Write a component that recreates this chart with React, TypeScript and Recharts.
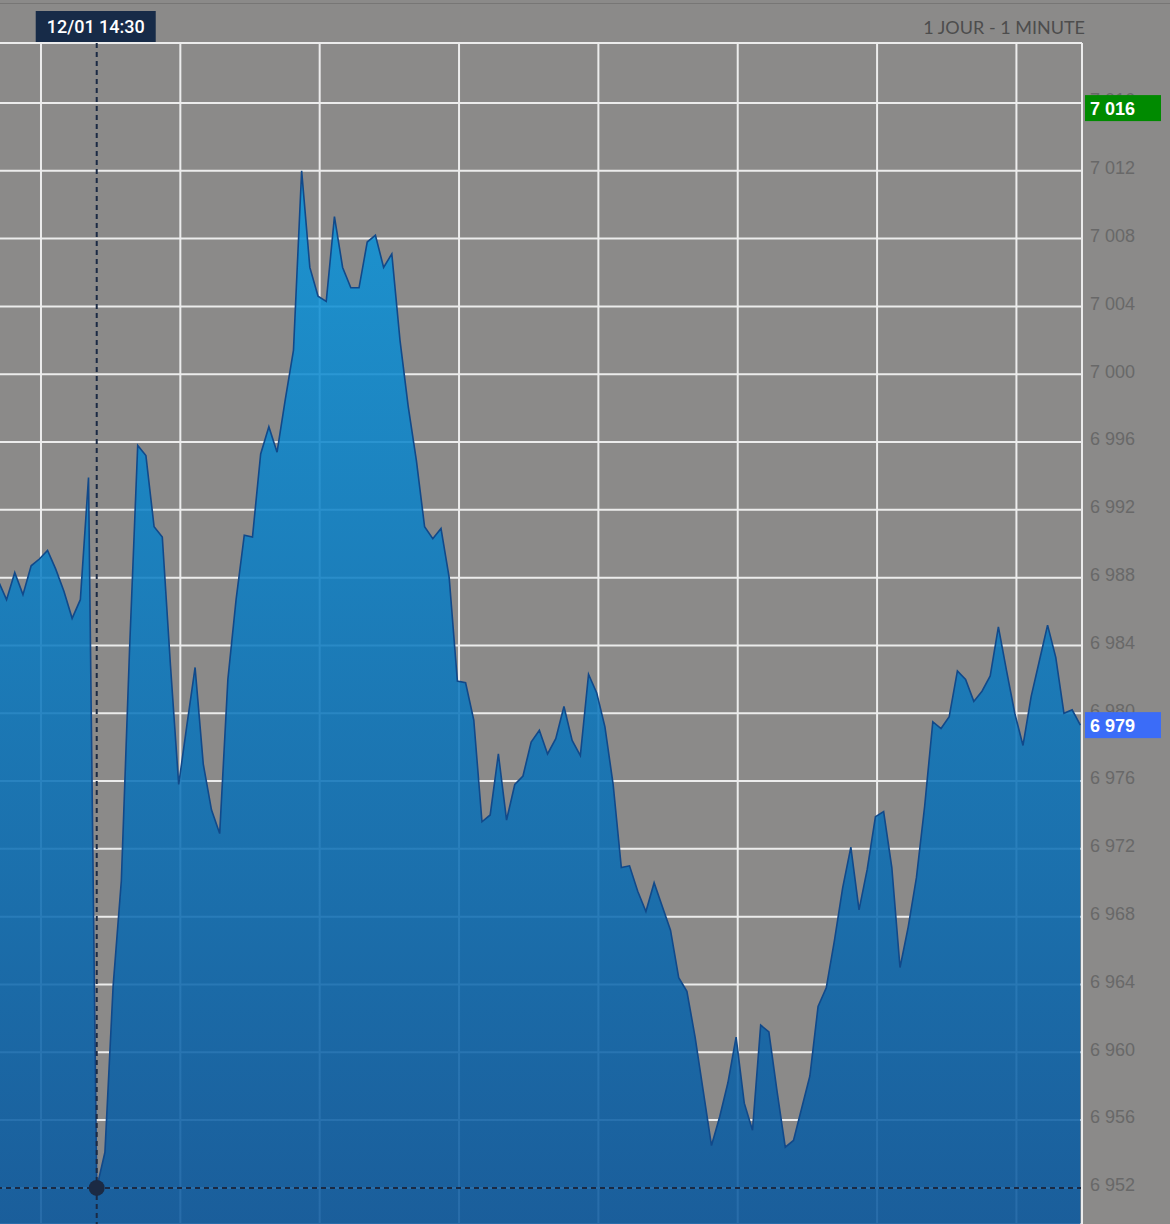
import React from "react";
import {
  AreaChart,
  Area,
  XAxis,
  YAxis,
  CartesianGrid,
  ReferenceLine,
  ReferenceDot,
} from "recharts";

// one point per minute
const VALUES = [
  6987.8, 6986.7, 6988.3, 6987.0, 6988.7, 6989.1, 6989.6, 6988.5, 6987.2, 6985.6,
  6986.7, 6993.9, 6952.0, 6954.1, 6963.9, 6970.1, 6983.7, 6995.8, 6995.2, 6991.0,
  6990.4, 6982.8, 6975.8, 6979.3, 6982.7, 6977.0, 6974.3, 6972.9, 6982.0, 6986.7,
  6990.5, 6990.4, 6995.3, 6996.9, 6995.4, 6998.5, 7001.4, 7012.0, 7006.3, 7004.6,
  7004.3, 7009.3, 7006.3, 7005.1, 7005.1, 7007.8, 7008.2, 7006.3, 7007.1, 7002.0,
  6998.1, 6994.9, 6991.0, 6990.3, 6990.9, 6988.0, 6981.9, 6981.8, 6979.6, 6973.6,
  6974.0, 6977.6, 6973.7, 6975.8, 6976.3, 6978.3, 6979.0, 6977.6, 6978.5, 6980.4,
  6978.4, 6977.5, 6982.3, 6981.2, 6979.2, 6975.8, 6970.9, 6971.0, 6969.5, 6968.3,
  6970.0, 6968.6, 6967.2, 6964.4, 6963.6, 6960.9, 6957.7, 6954.5, 6956.2, 6958.2,
  6960.9, 6957.0, 6955.4, 6961.6, 6961.2, 6957.7, 6954.4, 6954.8, 6956.7, 6958.6,
  6962.7, 6963.8, 6966.6, 6969.7, 6972.1, 6968.4, 6970.8, 6973.9, 6974.2, 6970.9,
  6965.0, 6967.4, 6970.3, 6974.5, 6979.5, 6979.1, 6979.8, 6982.5, 6982.0, 6980.7,
  6981.3, 6982.2, 6985.1, 6982.5, 6980.0, 6978.1, 6981.0, 6983.1, 6985.2, 6983.3,
  6980.0, 6980.2, 6979.3,
];

const Y_TICKS = [
  6952, 6956, 6960, 6964, 6968, 6972, 6976, 6980, 6984, 6988, 6992, 6996, 7000,
  7004, 7008, 7012, 7016,
];
const Y_DOMAIN = [6949.87, 7019.54];
const X_DOMAIN = [0.2, 132.2];
const X_TICKS = [5.2, 22.2, 39.2, 56.2, 73.2, 90.2, 107.2, 124.2];

const CROSS_INDEX = 12;
const CROSS_LABEL = "12/01 14:30";
const REF_LEVEL = 7015.7;
const TITLE = "1 JOUR - 1 MINUTE";

const GRID = "#ececec";
const CROSS = "#1b2a44";

const data = VALUES.map((v, i) => ({ t: i, price: v }));
const last = VALUES[VALUES.length - 1];

const fmt = (v: number) => {
  const r = Math.round(v);
  return `${Math.floor(r / 1000)} ${String(r % 1000).padStart(3, "0")}`;
};

function Badge(props: any) {
  const { viewBox, text, color } = props;
  if (!viewBox) return null;
  const { x, y, width } = viewBox;
  return (
    <g>
      <rect x={x + width + 3} y={y - 13} width={76} height={26} fill={color} />
      <text
        x={x + width + 8}
        y={y + 7}
        fill="#fff"
        fontSize={18}
        fontWeight={700}
        fontFamily="'Liberation Sans', Arial, sans-serif"
      >
        {text}
      </text>
    </g>
  );
}

function TimeBadge(props: any) {
  const { viewBox, text } = props;
  if (!viewBox) return null;
  const { x, y } = viewBox;
  return (
    <g>
      <rect x={x - 61} y={y - 32} width={120} height={31} fill="#172b48" />
      <text
        x={x - 1}
        y={y - 10}
        fill="#fff"
        fontSize={18}
        fontWeight={500}
        textAnchor="middle"
        fontFamily="Roboto, 'Liberation Sans', Arial, sans-serif"
      >
        {text}
      </text>
    </g>
  );
}

export default function App() {
  return (
    <div
      style={{
        position: "absolute",
        left: 0,
        top: 0,
        width: 1170,
        height: 1224,
        background: "#8b8a89",
        overflow: "hidden",
      }}
    >
      <div
        style={{
          position: "absolute",
          left: 0,
          top: 3,
          width: 1170,
          height: 1,
          background: "#777675",
        }}
      />
      <div
        style={{
          position: "absolute",
          right: 85,
          top: 16,
          fontFamily: "Lato, 'Open Sans', sans-serif",
          fontSize: 18,
          color: "#4d4d4d",
          lineHeight: "22px",
        }}
      >
        {TITLE}
      </div>
      <AreaChart
        width={1170}
        height={1224}
        data={data}
        margin={{ top: 43, right: 0, bottom: 0, left: 0 }}
      >
        <defs>
          <linearGradient id="fillBlue" x1="0" y1="0" x2="0" y2="1">
            <stop offset="0%" stopColor="#0b95db" stopOpacity={0.86} />
            <stop offset="100%" stopColor="#08579e" stopOpacity={0.86} />
          </linearGradient>
        </defs>
        <CartesianGrid stroke={GRID} strokeWidth={2} vertical={false} />
        <XAxis
          dataKey="t"
          type="number"
          orientation="top"
          domain={X_DOMAIN}
          ticks={X_TICKS}
          allowDataOverflow
          height={0}
          tick={false}
          tickLine={false}
          axisLine={false}
        />
        <YAxis
          orientation="right"
          width={88}
          domain={Y_DOMAIN}
          ticks={Y_TICKS}
          allowDataOverflow
          tickFormatter={fmt}
          tickLine={false}
          tickSize={0}
          tickMargin={8}
          axisLine={{ stroke: GRID, strokeWidth: 2 }}
          tick={{
            fill: "#686868",
            fontSize: 18,
            dy: -3,
            fontFamily: "'Liberation Sans', Arial, sans-serif",
            textAnchor: "start",
          }}
        />
        {X_TICKS.map((t) => (
          <ReferenceLine
            key={t}
            x={t}
            stroke={GRID}
            strokeWidth={2}
            zIndex={50}
          />
        ))}
        <ReferenceLine
          y={Y_DOMAIN[1]}
          stroke={GRID}
          strokeWidth={2}
          zIndex={50}
        />
        <Area
          type="linear"
          dataKey="price"
          stroke="#11498a"
          strokeWidth={1.6}
          fill="url(#fillBlue)"
          fillOpacity={1}
          dot={false}
          activeDot={false}
          isAnimationActive={false}
        />
        <ReferenceLine
          x={CROSS_INDEX}
          stroke={CROSS}
          strokeWidth={2}
          strokeDasharray="5 4"
          label={<TimeBadge text={CROSS_LABEL} />}
        />
        <ReferenceLine
          y={VALUES[CROSS_INDEX]}
          stroke={CROSS}
          strokeWidth={2}
          strokeDasharray="5 4"
        />
        <ReferenceDot
          x={CROSS_INDEX}
          y={VALUES[CROSS_INDEX]}
          r={8}
          fill={CROSS}
          stroke="none"
        />
        <ReferenceLine
          y={REF_LEVEL}
          stroke="none"
          zIndex={3000}
          label={<Badge text={fmt(REF_LEVEL)} color="#008a00" />}
        />
        <ReferenceLine
          y={last}
          stroke="none"
          zIndex={3000}
          label={<Badge text={fmt(last)} color="#3b6cf8" />}
        />
      </AreaChart>
    </div>
  );
}
